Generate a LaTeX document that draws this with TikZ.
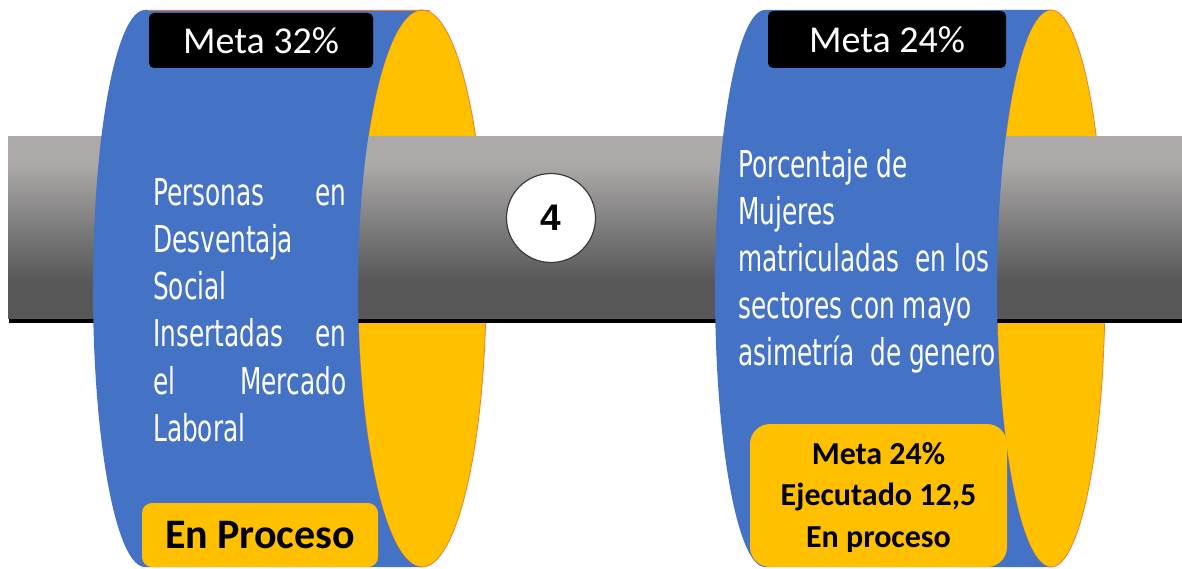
\documentclass[tikz,border=0pt]{standalone}
\usepackage{fontspec}
\setmainfont{Carlito}
\newfontfamily\condf[FakeStretch=0.67]{DejaVu Sans}
\newfontfamily\arialf{Liberation Sans}

\definecolor{blueC}{RGB}{68,114,196}
\definecolor{yellowC}{RGB}{255,192,0}
\definecolor{orangeC}{RGB}{237,125,49}
\definecolor{barTop}{RGB}{172,169,168}
\definecolor{barMid}{RGB}{125,124,124}
\definecolor{barBot}{RGB}{88,88,88}
\definecolor{ringC}{RGB}{60,60,60}

\pgfdeclareverticalshading{barshade}{100bp}{color(0bp)=(barBot); color(25bp)=(barBot); color(35bp)=(barBot); color(50bp)=(barMid); color(67.5bp)=(barTop); color(75bp)=(barTop); color(100bp)=(barTop)}

\tikzset{
  metabox/.style={fill=black, rounded corners=5pt, text=white, inner sep=0pt,
    font=\fontsize{38}{40}\selectfont},
  statebox/.style={fill=yellowC, inner sep=0pt},
  bodytext/.style={anchor=base west, inner sep=0pt, text=white,
    font=\condf\fontsize{37}{47}\selectfont},
  capface/.style={fill=yellowC, draw=orangeC, line width=0.8pt},
  numcircle/.style={circle, draw=ringC, fill=white, line width=1.2pt,
    minimum size=89pt, inner sep=0pt, font=\arialf\bfseries\fontsize{37}{37}\selectfont}
}

\begin{document}
\begin{tikzpicture}[x=1pt,y=-1pt]
\useasboundingbox (0,0) rectangle (1182,569);
\fill[white] (0,0) rectangle (1182,569);

% yellow end faces
\path[capface] (422,288.5) ellipse [x radius=64, y radius=278.5];
\path[capface] (1051,288.5) ellipse [x radius=54, y radius=278.5];

% bar
\fill[black] (9,314) rectangle (1182,323);
\shade[shading=barshade] (8,137) rectangle (1182,318);

% blue bodies (right edge follows the left half of the yellow face)
\fill[blueC] (145,10) arc[start angle=270, end angle=90, x radius=52, y radius=278.5]
  -- (422,567) arc[start angle=90, end angle=270, x radius=64, y radius=278.5] -- cycle;
\draw[orangeC, line width=0.8pt] (148,10) -- (430,10);
\fill[blueC] (765,10) arc[start angle=270, end angle=90, x radius=50, y radius=278.5]
  -- (1051,567) arc[start angle=90, end angle=270, x radius=54, y radius=278.5] -- cycle;

% top boxes
\node[metabox, minimum width=224pt, minimum height=55pt] (meta1) at (261,40.5) {Meta 32\%};
\node[metabox, minimum width=238pt, minimum height=57pt] (meta2) at (887,39.5) {Meta 24\%};

% body texts
\node[bodytext] (txt1) at (153,206) {\parbox[t]{193pt}{%
  \makebox[193pt][l]{Personas\hfill en}\\
  Desventaja\\
  Social\\
  \makebox[193pt][l]{Insertadas\hfill en}\\
  \makebox[193pt][l]{el\hfill Mercado}\\
  Laboral}};
\node[bodytext] (txt2) at (738,178) {\parbox[t]{260pt}{%
  Porcentaje de\\
  Mujeres\\
  matriculadas\ \ en los\\
  sectores con mayo\\
  asimetría\ \ de genero}};

% bottom boxes
\node[statebox, rounded corners=10pt, minimum width=236pt, minimum height=64pt,
  font=\bfseries\fontsize{42}{44}\selectfont] (estado1) at (260,535) {En Proceso};
\node[statebox, rounded corners=20pt, minimum width=257pt, minimum height=143pt] (estado2) at (878.5,495.5) {};
\node[anchor=base, inner sep=0pt, font=\bfseries\fontsize{32}{41.5}\selectfont] (estado2txt) at (878.5,464)
  {\parbox[t]{250pt}{\centering Meta 24\%\\Ejecutado 12,5\\En proceso}};

% number circle
\node[numcircle] (num) at (551,218) {4};
\end{tikzpicture}
\end{document}
